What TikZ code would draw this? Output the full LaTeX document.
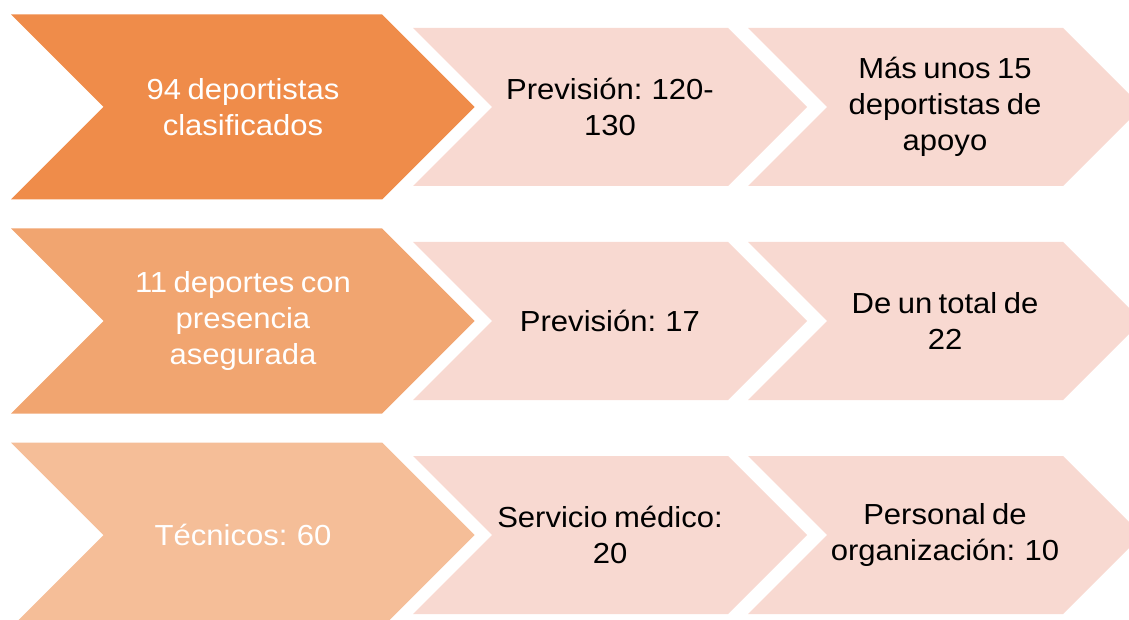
\documentclass[tikz,border=0pt]{standalone}
\usepackage{fontspec}
\setmainfont[FakeStretch=1.07, WordSpace=0.75]{Liberation Sans}

\definecolor{naranjaA}{HTML}{EF8C4A}
\definecolor{naranjaB}{HTML}{F1A570}
\definecolor{naranjaC}{HTML}{F5BE98}
\definecolor{rosa}{HTML}{F8D9D1}

% left x, right x, centre y, half height, colour
\newcommand{\chevron}[5]{%
  \fill[#5] (#1,#3-#4) -- (#2,#3-#4) -- (#2+#4,#3) -- (#2,#3+#4)
    -- (#1,#3+#4) -- (#1+#4,#3) -- cycle;}

\tikzset{
  bigtxt/.style={align=center, text=white, font=\fontsize{29}{36}\selectfont},
  smalltxt/.style={align=center, text=black, font=\fontsize{29}{36}\selectfont}
}

\begin{document}
\begin{tikzpicture}[x=1pt, y=-1pt]

\useasboundingbox (0,0) rectangle (1129,620);

% row 1
\chevron{11}{382}{107}{92.5}{naranjaA}
\chevron{413}{728}{107}{79}{rosa}
\chevron{748}{1063}{107}{79}{rosa}
\node [bigtxt] (deportistas) at (243,107) {94 deportistas\\clasificados};
\node [smalltxt] (prevA) at (610,107) {Previsión: 120-\\130};
\node [smalltxt] (apoyo) at (945,107) {Más unos 15\\deportistas de\\apoyo};

% row 2
\chevron{11}{382}{321}{92.5}{naranjaB}
\chevron{413}{728}{321}{79}{rosa}
\chevron{748}{1063}{321}{79}{rosa}
\node [bigtxt] (deportes) at (243,321) {11 deportes con\\presencia\\asegurada};
\node [smalltxt] (prevB) at (610,321) {Previsión: 17};
\node [smalltxt] (total) at (945,321) {De un total de\\22};

% row 3
\chevron{11}{382}{535}{92.5}{naranjaC}
\chevron{413}{728}{535}{79}{rosa}
\chevron{748}{1063}{535}{79}{rosa}
\node [bigtxt] (tecnicos) at (243,535) {Técnicos: 60};
\node [smalltxt] (medico) at (610,535) {Servicio médico:\\20};
\node [smalltxt] (personal) at (945,535) {Personal de\\organización: 10};

\end{tikzpicture}
\end{document}
